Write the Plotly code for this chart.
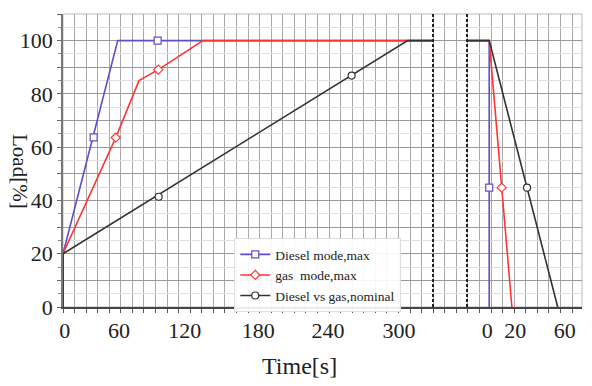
import plotly.graph_objects as go

# ---------------- data (x in axis seconds, y in load %) ----------------
# Diesel mode, max
diesel_x = [0, 0, 47.3, 320, None, 349, 368.4, 368.4]
diesel_y = [0, 20, 100, 100, None, 100, 100, 0]
diesel_mx = [26.5, None, 81.8, None, 368.4]
diesel_my = [63.7, None, 100, None, 44.8]

# gas mode, max
gas_x = [0, 0, 45.6, 65.7, 82.4, 121, 320, None, 349, 368.4, 388]
gas_y = [0, 20, 63.6, 85, 89.1, 100, 100, None, 100, 100, 0]
gas_mx = [45.6, None, 82.4, None, 379.2]
gas_my = [63.6, None, 89.1, None, 44.8]

# Diesel vs gas, nominal
nom_x = [0, 0, 297.9, 320, None, 349, 368.4, 427.6]
nom_y = [0, 20, 100, 100, None, 100, 100, 0]
nom_mx = [82.7, None, 249.5, None, 401.1]
nom_my = [41.4, None, 86.9, None, 44.8]

# tick labels
x_tick_pos = [1.5, 48.4, 105.2, 168.7, 229, 290.4, 366.8, 391, 433.6]
x_tick_text = ["0", "60", "120", "180", "240", "300", "0", "20", "60"]
y_tick_labels = [0, 20, 40, 60, 80, 100]
break_lines = [319.8, 349.2]

X_RANGE = [0, 448.6]
Y_RANGE = [0, 110]

BLUE = "#5b50c8"
RED = "#ff3535"
BLACK = "#333333"
FONT = "Liberation Serif, Times New Roman, serif"

series = [
    ("Diesel mode,max", diesel_x, diesel_y, diesel_mx, diesel_my, BLUE, "square"),
    ("gas  mode,max", gas_x, gas_y, gas_mx, gas_my, RED, "diamond"),
    ("Diesel vs gas,nominal", nom_x, nom_y, nom_mx, nom_my, BLACK, "circle"),
]

fig = go.Figure()
for name, x, y, mx, my, col, sym in series:
    fig.add_trace(go.Scatter(x=x, y=y, mode="lines", line=dict(color=col, width=1.6),
                             showlegend=False, hoverinfo="skip", connectgaps=False))
for name, x, y, mx, my, col, sym in series:
    fig.add_trace(go.Scatter(x=mx, y=my, mode="lines+markers", name=name,
                             line=dict(color=col, width=1.6),
                             marker=dict(symbol=sym, size=7, color="white",
                                         line=dict(color=col, width=1.2)),
                             connectgaps=False))

y_tickvals = list(range(0, 111, 10))
y_ticktext = [str(v) if v in y_tick_labels else "" for v in y_tickvals]

fig.update_layout(
    width=584, height=378,
    margin=dict(l=55, r=10, t=6, b=79),
    paper_bgcolor="white", plot_bgcolor="white",
    font=dict(family=FONT, size=22, color="#222"),
    showlegend=True,
    legend=dict(x=0.33, y=0.235, xanchor="left", yanchor="top",
                bgcolor="rgba(255,255,255,0.9)", bordercolor="#dddddd", borderwidth=1,
                font=dict(family=FONT, size=13.5, color="#222"),
                tracegroupgap=0, itemwidth=30),
    xaxis=dict(range=X_RANGE, tickmode="array", tickvals=x_tick_pos, ticktext=x_tick_text,
               showgrid=False, ticks="", zeroline=False,
               showline=True, linecolor="#444", linewidth=2,
               tickfont=dict(size=22), ticklabelstandoff=3,
               minor=dict(tickmode="linear", tick0=0, dtick=10, ticks="outside",
                          ticklen=4, tickcolor="#555", showgrid=True,
                          gridcolor="#a8a8a8", gridwidth=1)),
    yaxis=dict(range=Y_RANGE, tickmode="array", tickvals=y_tickvals, ticktext=y_ticktext,
               showgrid=True, gridcolor="#999999", gridwidth=1,
               ticks="outside", ticklen=4, tickcolor="#666", zeroline=False,
               showline=True, linecolor="#777", linewidth=1.5,
               tickfont=dict(size=22),
               minor=dict(tickmode="linear", tick0=0, dtick=5, ticks="outside",
                          ticklen=3, tickcolor="#888", showgrid=True,
                          gridcolor="#e0e0e0", gridwidth=1)),
)

# plot border (top/right light)
fig.add_shape(type="rect", xref="paper", yref="paper", x0=0, x1=1, y0=0, y1=1,
              line=dict(color="#bbbbbb", width=1), layer="below")
# axis-break dashed lines
for bx in break_lines:
    fig.add_shape(type="line", x0=bx, x1=bx, y0=Y_RANGE[0], y1=Y_RANGE[1],
                  line=dict(color="#222", width=2, dash="3px,2px"))

fig.add_annotation(text="Load[%]", xref="paper", yref="paper", x=-0.083, y=0.461,
                   xanchor="center", yanchor="middle",
                   textangle=90, showarrow=False, font=dict(family=FONT, size=21, color="#222"))
fig.add_annotation(text="Time[s]", xref="paper", yref="paper", x=0.455, y=-0.201,
                   xanchor="center", yanchor="middle",
                   showarrow=False, font=dict(family=FONT, size=24, color="#222"))

fig.write_html("out.html")
